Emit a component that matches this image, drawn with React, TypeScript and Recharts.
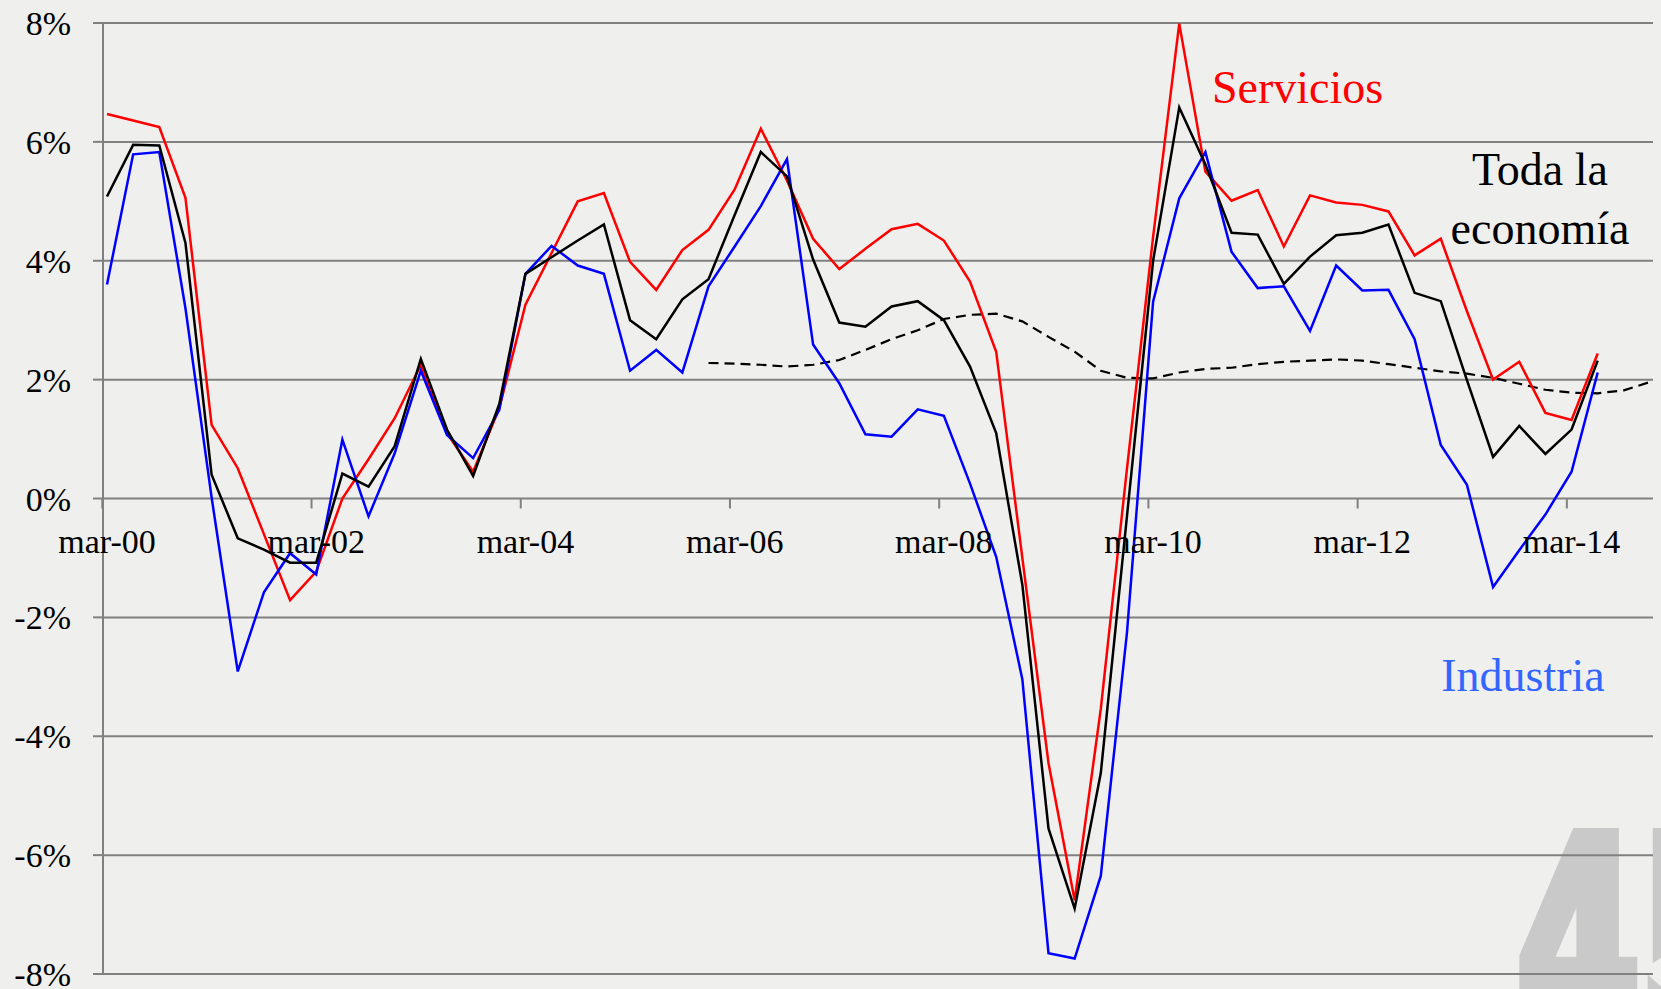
import { LineChart, Line, XAxis, YAxis, CartesianGrid } from "recharts";

const W = 1661;
const H = 989;
const TOP = 23;
const BOTTOM = 15;
const ZERO_Y = TOP + (H - TOP - BOTTOM) / 2;
const FONT = "'Liberation Serif', 'Times New Roman', serif";
const GRID = "#808080";

// trimestres mar-00 ... dic-14
const years = ["00", "01", "02", "03", "04", "05", "06", "07", "08", "09", "10", "11", "12", "13", "14"];
const months = ["mar", "jun", "sep", "dic"];
const quarters = years.flatMap((y) => months.map((m) => `${m}-${y}`));

const yTicks = [-8, -6, -4, -2, 0, 2, 4, 6, 8];

const servicios = [
  6.47, 6.36, 6.25, 5.06, 1.24, 0.51, -0.6, -1.71, -1.23, 0.0, 0.66, 1.35,
  2.25, 1.1, 0.45, 1.52, 3.26, 4.13, 5.0, 5.14, 3.98, 3.51, 4.18, 4.52,
  5.2, 6.22, 5.35, 4.37, 3.86, 4.2, 4.53, 4.62, 4.34, 3.65, 2.47, -1.0,
  -4.45, -6.76, -3.54, 0.5, 4.4, 7.99, 5.5, 5.01, 5.19, 4.24, 5.1, 4.98,
  4.94, 4.83, 4.09, 4.37, 3.15, 2.0, 2.3, 1.44, 1.32, 2.44,
];

const economia = [
  5.08, 5.95, 5.94, 4.3, 0.4, -0.67, -0.86, -1.08, -1.08, 0.42, 0.2, 0.88,
  2.35, 1.16, 0.38, 1.59, 3.78, 4.06, 4.34, 4.61, 3.0, 2.68, 3.35, 3.69,
  4.77, 5.83, 5.42, 4.02, 2.96, 2.89, 3.23, 3.32, 3.0, 2.22, 1.1, -1.45,
  -5.55, -6.9, -4.62, -0.3, 4.0, 6.58, 5.62, 4.47, 4.44, 3.61, 4.07, 4.43,
  4.47, 4.61, 3.46, 3.32, 1.99, 0.7, 1.22, 0.75, 1.16, 2.32,
];

const industria = [
  3.6, 5.79, 5.83, 3.2, 0.02, -2.91, -1.58, -0.92, -1.28, 0.99, -0.3, 0.76,
  2.15, 1.07, 0.68, 1.49, 3.78, 4.25, 3.92, 3.78, 2.15, 2.5, 2.12, 3.57,
  4.24, 4.92, 5.71, 2.59, 1.94, 1.08, 1.04, 1.5, 1.39, 0.25, -0.98, -3.04,
  -7.65, -7.74, -6.35, -2.26, 3.31, 5.05, 5.83, 4.15, 3.54, 3.57, 2.82, 3.92,
  3.5, 3.51, 2.68, 0.9, 0.23, -1.49, -0.87, -0.27, 0.45, 2.12,
];

// tendencia (línea discontinua), desde dic-05
const tendencia = [
  null, null, null, null, null, null, null, null, null, null, null, null,
  null, null, null, null, null, null, null, null, null, null, null,
  2.28, 2.27, 2.25, 2.22, 2.25, 2.33, 2.5, 2.68, 2.83, 3.02, 3.09, 3.11,
  2.98, 2.72, 2.47, 2.15, 2.03, 2.02, 2.12, 2.18, 2.2, 2.26, 2.3, 2.32,
  2.34, 2.32, 2.26, 2.2, 2.14, 2.1, 2.03, 1.93, 1.83, 1.78, 1.77, 1.82, 1.96,
];

const data = quarters.map((q, i) => ({
  q,
  servicios: servicios[i] ?? null,
  economia: economia[i] ?? null,
  industria: industria[i] ?? null,
  tendencia: tendencia[i] ?? null,
}));

// etiquetas del eje X colgadas de la línea del 0%
const XTick = (props: any) => {
  const { x, payload } = props;
  return (
    <g>
      <line x1={x - 4.7} x2={x - 4.7} y1={ZERO_Y} y2={ZERO_Y + 10} stroke={GRID} strokeWidth={2} />
      <text x={x} y={ZERO_Y + 54} textAnchor="middle" fontFamily={FONT} fontSize={34} fill="#000">
        {payload.value}
      </text>
    </g>
  );
};

export default function App() {
  return (
    <div
      style={{
        position: "absolute",
        left: 0,
        top: 0,
        width: W,
        height: H,
        overflow: "hidden",
        background: "#efefed",
      }}
    >
      <svg width={W} height={H} style={{ position: "absolute", left: 0, top: 0 }}>
        <text
          transform="translate(1517,1040) scale(0.7,1)"
          fontFamily="'Liberation Sans Narrow', 'DejaVu Sans Condensed', sans-serif"
          fontWeight={700}
          fontSize={280}
          fill="#c9c9c9"
          stroke="#c9c9c9"
          strokeWidth={16}
        >
          45
        </text>
      </svg>
      <div style={{ position: "absolute", left: 0, top: 0 }}>
        <LineChart width={W} height={H} data={data} margin={{ top: TOP, right: 8, bottom: 0, left: 0 }}>
          <CartesianGrid vertical={false} stroke={GRID} strokeWidth={2} />
          <XAxis
            dataKey="q"
            scale="point"
            interval={7}
            height={BOTTOM}
            padding={{ left: 4, right: 3 }}
            axisLine={false}
            tickLine={false}
            tick={XTick}
          />
          <YAxis
            width={103}
            domain={[-8, 8]}
            ticks={yTicks}
            interval={0}
            tickFormatter={(v) => `${v}%`}
            axisLine={{ stroke: GRID, strokeWidth: 2 }}
            tickLine={{ stroke: GRID, strokeWidth: 2 }}
            tickSize={10}
            tickMargin={22}
            tick={{ fill: "#000", fontSize: 34, fontFamily: FONT }}
          />
          <Line type="linear" dataKey="tendencia" stroke="#000" strokeWidth={2.2} strokeDasharray="10 6" dot={false} isAnimationActive={false} />
          <Line type="linear" dataKey="servicios" stroke="#ff0000" strokeWidth={2.5} dot={false} isAnimationActive={false} />
          <Line type="linear" dataKey="industria" stroke="#0000ff" strokeWidth={2.5} dot={false} isAnimationActive={false} />
          <Line type="linear" dataKey="economia" stroke="#000" strokeWidth={2.5} dot={false} isAnimationActive={false} />
        </LineChart>
      </div>
      <svg width={W} height={H} style={{ position: "absolute", left: 0, top: 0, pointerEvents: "none" }}>
        <text x={1212} y={103} fontFamily={FONT} fontSize={46} fill="#ff0000">
          Servicios
        </text>
        <text x={1540} y={185} textAnchor="middle" fontFamily={FONT} fontSize={46} fill="#000">
          Toda la
        </text>
        <text x={1540} y={244} textAnchor="middle" fontFamily={FONT} fontSize={46} fill="#000">
          economía
        </text>
        <text x={1523} y={691} textAnchor="middle" fontFamily={FONT} fontSize={46} fill="#3366ff">
          Industria
        </text>
      </svg>
    </div>
  );
}
